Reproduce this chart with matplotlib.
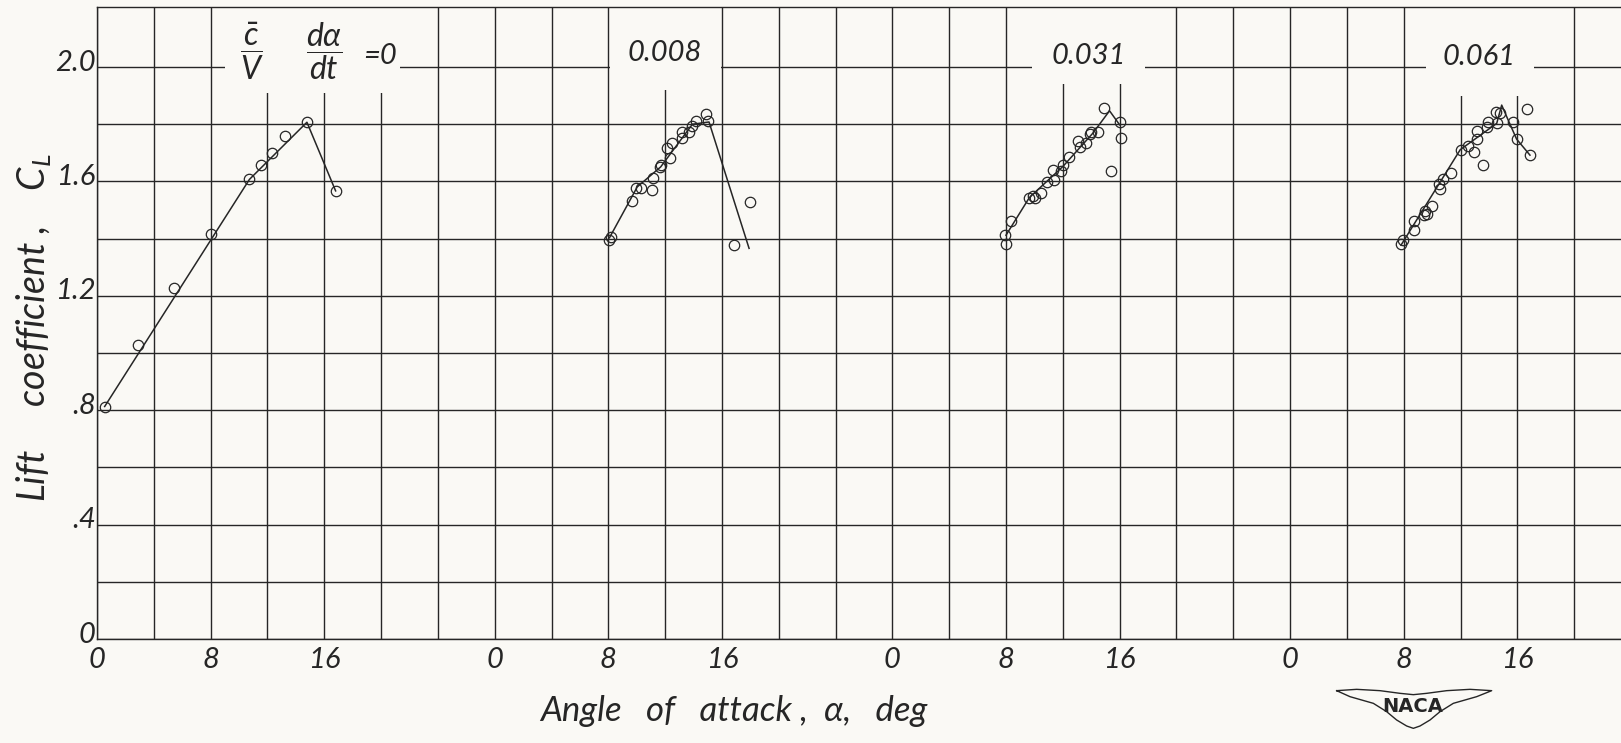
import numpy as np
import matplotlib.pyplot as plt
from matplotlib.patches import Rectangle
from matplotlib.lines import Line2D
from matplotlib.transforms import ScaledTranslation

# panel labels (rate parameter c/V * dalpha/dt) and the shift of each panel on the shared grid
rate_labels = ["0", "0.008", "0.031", "0.061"]
panel_shift = [0, 28, 56, 84]

# test points (angle of attack, deg ; lift coefficient)
p1_alpha = [0.54, 2.88, 5.39, 8.03, 10.73, 11.55, 12.34, 13.23, 14.78, 16.80]
p1_cl = [0.813, 1.027, 1.226, 1.416, 1.607, 1.659, 1.698, 1.758, 1.807, 1.567]
p1_fair_alpha = [0.54, 10.73, 14.78, 16.80]
p1_fair_cl = [0.813, 1.607, 1.807, 1.567]

p2_alpha = [8.05, 8.21, 9.69, 9.97, 10.28, 11.10, 11.15, 11.64, 11.69, 12.15, 12.34,
            12.51, 13.16, 13.16, 13.68, 13.92, 14.15, 14.85, 15.02, 16.85, 17.95]
p2_cl = [1.395, 1.404, 1.532, 1.576, 1.578, 1.569, 1.611, 1.651, 1.658, 1.716, 1.683,
         1.736, 1.753, 1.773, 1.773, 1.794, 1.812, 1.835, 1.812, 1.378, 1.529]
p2_fair_alpha = [8.08, 10.04, 11.69, 13.92, 15.09, 17.91]
p2_fair_cl = [1.403, 1.581, 1.651, 1.800, 1.808, 1.366]

p3_alpha = [8.00, 7.95, 8.35, 9.65, 9.88, 10.07, 10.47, 10.89, 11.36, 11.29, 11.84,
            12.00, 12.42, 13.06, 13.18, 13.65, 13.88, 14.00, 14.47, 14.87, 15.41, 16.05, 16.12]
p3_cl = [1.381, 1.414, 1.463, 1.542, 1.548, 1.542, 1.559, 1.598, 1.606, 1.641, 1.637,
         1.658, 1.687, 1.740, 1.719, 1.734, 1.765, 1.774, 1.774, 1.858, 1.637, 1.809, 1.753]
p3_fair_alpha = [8.00, 9.65, 12.00, 14.12, 15.29, 16.00]
p3_fair_cl = [1.412, 1.544, 1.652, 1.769, 1.847, 1.798]

p4_alpha = [7.81, 7.95, 8.70, 8.70, 9.40, 9.52, 9.64, 9.99, 10.46, 10.57, 10.74, 11.32,
            12.02, 12.56, 12.98, 13.15, 13.15, 13.61, 13.85, 13.96, 14.55, 14.50, 14.78,
            15.67, 15.95, 16.70, 16.89]
p4_cl = [1.382, 1.394, 1.429, 1.460, 1.481, 1.498, 1.486, 1.515, 1.590, 1.573, 1.610, 1.628,
         1.709, 1.725, 1.702, 1.748, 1.775, 1.659, 1.792, 1.809, 1.806, 1.844, 1.838,
         1.809, 1.748, 1.852, 1.694]
p4_fair_alpha = [7.81, 11.98, 14.55, 14.90, 15.30, 15.95, 16.89]
p4_fair_cl = [1.377, 1.711, 1.803, 1.867, 1.821, 1.748, 1.692]

points = [(p1_alpha, p1_cl), (p2_alpha, p2_cl), (p3_alpha, p3_cl), (p4_alpha, p4_cl)]
fairings = [(p1_fair_alpha, p1_fair_cl), (p2_fair_alpha, p2_fair_cl),
            (p3_fair_alpha, p3_fair_cl), (p4_fair_alpha, p4_fair_cl)]

x_tick_vals = [0, 8, 16]
y_tick_vals = [0, 0.4, 0.8, 1.2, 1.6, 2.0]
y_tick_labels = ["0", ".4", ".8", "1.2", "1.6", "2.0"]

paper = "#faf9f5"
ink = "#262626"
hand = ["Lato", "DejaVu Sans"]
lettering = dict(family=hand, style="italic", weight="normal", color=ink)

plt.rcParams["mathtext.fontset"] = "custom"
plt.rcParams["mathtext.it"] = "Lato:italic"
plt.rcParams["mathtext.rm"] = "Lato"

fig = plt.figure(figsize=(16.21, 7.43), dpi=100, facecolor=paper)
ax = fig.add_axes([97 / 1621, 104 / 743, 1524 / 1621, 632 / 743])
ax.set_facecolor(paper)
ax.set_xlim(0, 107.3)
ax.set_ylim(0, 2.21)

# graph-paper grid (major ticks also sit on grid lines)
ax.set_xticks(np.arange(0, 107, 4), minor=True)
ax.set_yticks(np.arange(0, 2.2, 0.2), minor=True)
ax.tick_params(which="both", length=0)

xt = [s + v for s in panel_shift for v in x_tick_vals]
ax.set_xticks(xt)
ax.set_xticklabels([str(v) for s in panel_shift for v in x_tick_vals], fontsize=21, **lettering)
ax.tick_params(axis="x", pad=6)
ax.set_yticks(y_tick_vals)
ax.set_yticklabels(y_tick_labels, fontsize=21, **lettering)
ax.tick_params(axis="y", pad=1)
for lab in ax.get_yticklabels():
    lab.set_transform(lab.get_transform() + ScaledTranslation(0, 5 / 72, fig.dpi_scale_trans))
ax.grid(which="both", color=ink, lw=1.0)

for side in ["left", "bottom", "top"]:
    ax.spines[side].set_color(ink)
    ax.spines[side].set_linewidth(1.0)
ax.spines["right"].set_visible(False)

# blank patches where the headings are lettered
blanks = [(9.0, 21.3, 1.91), (36.1, 43.9, 1.92), (65.8, 73.8, 1.94), (93.6, 101.2, 1.90)]
for x0, x1, y0 in blanks:
    ax.add_patch(Rectangle((x0, y0), x1 - x0, 2.205 - y0, facecolor=paper,
                           edgecolor="none", zorder=1.8))

for shift, (a, c), (fa, fc) in zip(panel_shift, points, fairings):
    ax.plot(np.array(fa) + shift, fc, color=ink, lw=1.1, zorder=3)
    ax.plot(np.array(a) + shift, c, "o", mfc="none", mec=ink, ms=7.5, mew=0.9, zorder=4)

# headings
ax.text(10.9, 2.055, r"$\dfrac{\bar{c}}{V}$", fontsize=23,
        color=ink, ha="center", va="center", zorder=5)
ax.text(16.0, 2.055, r"$\dfrac{d\alpha}{dt}$", fontsize=23,
        color=ink, ha="center", va="center", zorder=5)
ax.text(19.9, 2.04, "=0", fontsize=21, ha="center", va="center", zorder=5, **lettering)
head_pos = [(40.0, 2.05), (69.8, 2.04), (97.3, 2.036)]
for lab, (hx, hy) in zip(rate_labels[1:], head_pos):
    ax.text(hx, hy, lab, fontsize=21, ha="center", va="center", zorder=5, **lettering)

fig.text(734 / 1621, 1 - 711 / 743, "Angle   of   attack ,  \u03b1,   deg",
         fontsize=25, ha="center", va="center", **lettering)
fig.text(34 / 1621, 1 - 328 / 743, r"Lift     coefficient ,    $C_L$",
         fontsize=27, ha="center", va="center", rotation=90, **lettering)

# NACA wing badge
wing = [(410, 272), (470, 268), (540, 272), (600, 280), (640, 284), (680, 280), (740, 272),
        (810, 268), (875, 272), (830, 290), (760, 310), (720, 335), (690, 360), (660, 378),
        (640, 385), (620, 378), (590, 360), (560, 335), (520, 310), (450, 290), (410, 272)]
wx = [(1200 + p[0] / 3) / 1621 for p in wing]
wy = [1 - (600 + p[1] / 3) / 743 for p in wing]
fig.add_artist(Line2D(wx, wy, transform=fig.transFigure, color=ink, lw=1.0))
fig.text(1413 / 1621, 1 - 707 / 743, "NACA", family="DejaVu Sans", weight="bold",
         fontsize=14, ha="center", va="center", color=ink)

fig.savefig("out.png", dpi=100, facecolor=paper)
